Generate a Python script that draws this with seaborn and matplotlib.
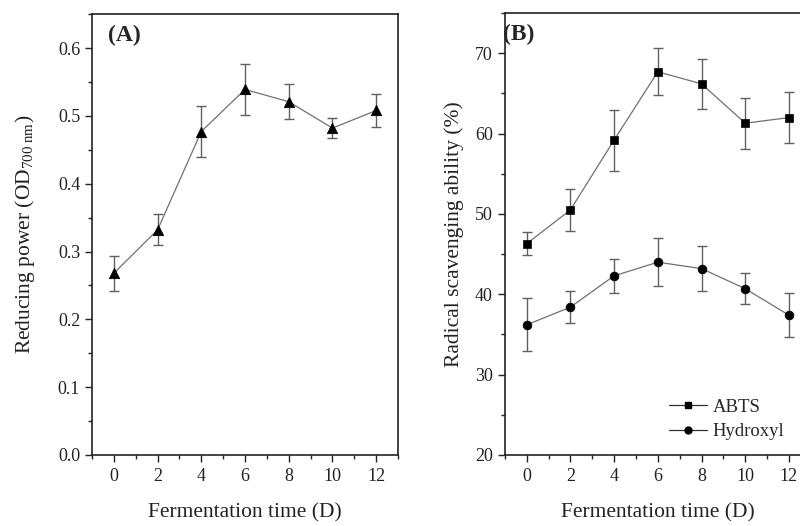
import numpy as np
import pandas as pd
import matplotlib
matplotlib.use("Agg")
import matplotlib.pyplot as plt
import seaborn as sns
from matplotlib.lines import Line2D
from matplotlib.ticker import MultipleLocator

days = [0, 2, 4, 6, 8, 10, 12]
reducing = [0.268, 0.332, 0.477, 0.539, 0.521, 0.482, 0.508]
reducing_err = [0.026, 0.023, 0.038, 0.037, 0.026, 0.015, 0.025]
abts = [46.3, 50.5, 59.2, 67.7, 66.2, 61.3, 62.0]
abts_err = [1.4, 2.6, 3.8, 2.9, 3.1, 3.2, 3.2]
hydroxyl = [36.2, 38.4, 42.3, 44.0, 43.2, 40.7, 37.4]
hydroxyl_err = [3.3, 2.0, 2.1, 3.0, 2.8, 1.9, 2.75]

sns.set_style("ticks")
plt.rcParams['font.family'] = ['Liberation Serif', 'DejaVu Serif']
plt.rcParams['mathtext.fontset'] = 'custom'
plt.rcParams['mathtext.rm'] = 'Liberation Serif'
plt.rcParams['mathtext.it'] = 'Liberation Serif:italic'

fig = plt.figure(figsize=(8, 5.26), dpi=100)
axA = fig.add_axes([0.115, 0.135, 0.3825, 0.838])
axB = fig.add_axes([0.631, 0.135, 0.3825, 0.840])

line_c = "#707070"
err_c = "#606060"


def draw_series(ax, y, err, marker, ms):
    df = pd.DataFrame({"day": days, "val": y})
    ax.errorbar(days, y, yerr=err, fmt="none", ecolor=err_c, elinewidth=1,
                capsize=3.5, capthick=1, zorder=1)
    sns.lineplot(data=df, x="day", y="val", ax=ax, color=line_c, lw=0.9, zorder=2)
    sns.scatterplot(data=df, x="day", y="val", ax=ax, marker=marker, s=ms,
                    color="black", edgecolor="black", zorder=3)


draw_series(axA, reducing, reducing_err, "^", 55)
draw_series(axB, abts, abts_err, "s", 36)
draw_series(axB, hydroxyl, hydroxyl_err, "o", 40)

for ax in (axA, axB):
    ax.set_xlim(-1, 13)
    ax.set_xticks(days)
    ax.xaxis.set_minor_locator(MultipleLocator(1))
    ax.tick_params(which="major", direction="out", length=5, width=1, labelsize=13,
                   top=False, right=False, colors="#222222", labelcolor="#222222")
    ax.tick_params(which="minor", direction="out", length=3, width=1,
                   top=False, right=False, colors="#222222")
    ax.tick_params(axis="x", pad=4.5)
    for s in ax.spines.values():
        s.set_linewidth(1.2)
        s.set_color("#222222")
    ax.set_xlabel("Fermentation time (D)", fontsize=15.5, labelpad=13,
                  color="#222222")

axA.set_ylim(0, 0.65)
axA.set_yticks([0.0, 0.1, 0.2, 0.3, 0.4, 0.5, 0.6])
axA.yaxis.set_minor_locator(MultipleLocator(0.05))
axA.set_yticklabels(["0.0", "0.1", "0.2", "0.3", "0.4", "0.5", "0.6"])
axA.set_ylabel(r"Reducing power (OD$_{\mathrm{700\ nm}}$)", fontsize=15.5,
               labelpad=15, color="#222222")
axA.text(0.052, 0.975, "(A)", transform=axA.transAxes, fontsize=17,
         fontweight="bold", va="top", ha="left")

axB.set_ylim(20, 75)
axB.set_yticks([20, 30, 40, 50, 60, 70])
axB.yaxis.set_minor_locator(MultipleLocator(5))
axB.set_ylabel("Radical scavenging ability (%)", fontsize=15.5, labelpad=8,
               color="#222222")
axB.text(-0.005, 0.975, "(B)", transform=axB.transAxes, fontsize=17,
         fontweight="bold", va="top", ha="left")

handles = [
    Line2D([], [], color="#333333", lw=0.9, marker="s", markersize=4.5,
           markerfacecolor="black", markeredgecolor="black"),
    Line2D([], [], color="#333333", lw=0.9, marker="o", markersize=5,
           markerfacecolor="black", markeredgecolor="black"),
]
axB.legend(handles, ["ABTS", "Hydroxyl"], loc="lower left",
           bbox_to_anchor=(0.535, 0.033), frameon=False, fontsize=13.5,
           handlelength=2.05, handletextpad=0.3, labelspacing=0.4,
           borderpad=0, borderaxespad=0)

fig.savefig("out.png", dpi=100)
